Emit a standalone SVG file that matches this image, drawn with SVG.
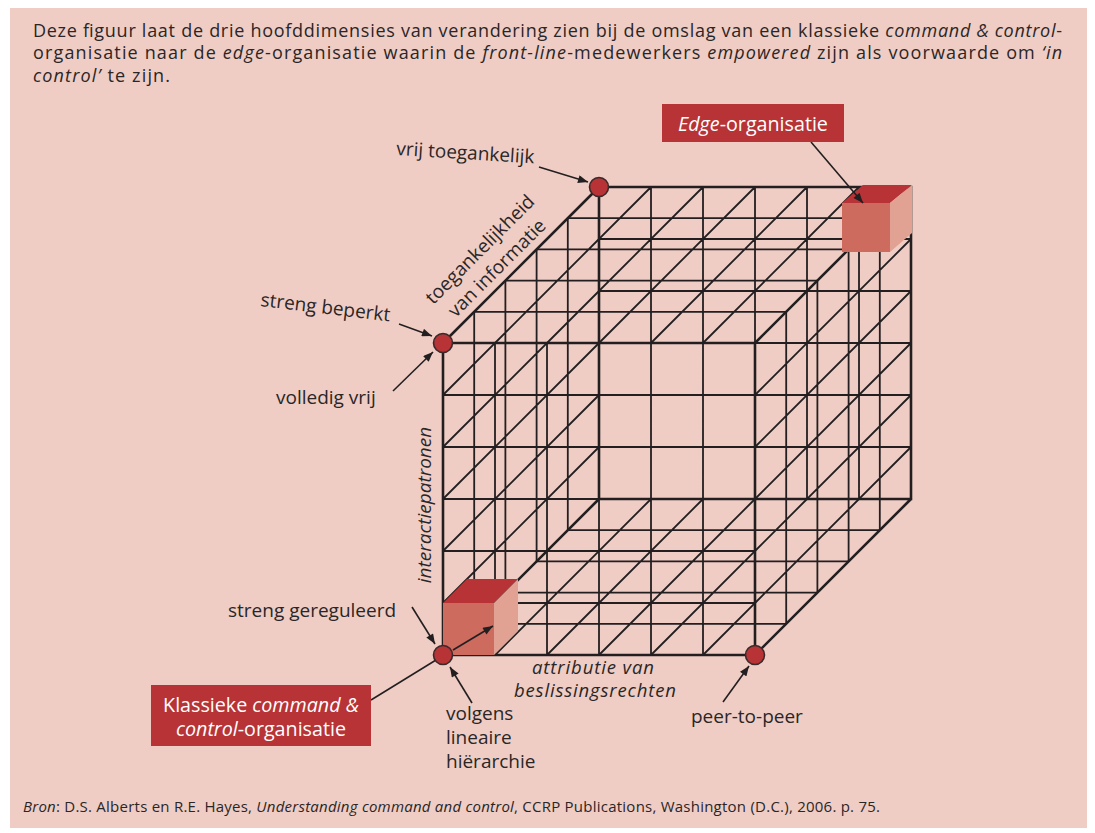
<svg xmlns="http://www.w3.org/2000/svg" width="1095" height="833" viewBox="0 0 1095 833">
<style>
text{font-family:"Open Sans","Noto Sans","Liberation Sans",sans-serif;fill:#2a2627}
.cap{font-size:18px}
.src{font-size:15px}
.lbl{font-size:19px}
.ax{font-size:18.5px}
.box text{fill:#ffffff;font-size:19.7px}
.it{font-style:italic}
.grid{fill:none;stroke:#231f20;stroke-width:1.8}
.edge{fill:none;stroke:#231f20;stroke-width:2.6}
.con{fill:none;stroke:#231f20;stroke-width:1.6}
.dot{fill:#b83336;stroke:#3a2a2a;stroke-width:1.6}
.top{fill:#b83336}
.front{fill:#cd6b5f}
.side{fill:#e1a294}
.boxbg{fill:#b83336}
</style>
<defs>
<marker id="ah" viewBox="0 0 10 8" refX="10" refY="4" markerWidth="11" markerHeight="8" markerUnits="userSpaceOnUse" orient="auto">
<path d="M0,0 L10,4 L0,8 z" fill="#231f20"/>
</marker>
</defs>
<rect x="0" y="0" width="1095" height="833" fill="#ffffff"/>
<rect id="background" x="10" y="8" width="1077" height="820" fill="#efcdc4"/>

<g id="caption" class="cap">
<text x="33" y="37" textLength="1029" lengthAdjust="spacing">Deze figuur laat de drie hoofddimensies van verandering zien bij de omslag van een klassieke <tspan class="it">command &amp; control</tspan>-</text>
<text x="33" y="59.3" textLength="1029" lengthAdjust="spacing">organisatie naar de <tspan class="it">edge</tspan>-organisatie waarin de <tspan class="it">front-line</tspan>-medewerkers <tspan class="it">empowered</tspan> zijn als voorwaarde om <tspan class="it">‘in</tspan></text>
<text x="33" y="81.6" textLength="137" lengthAdjust="spacing"><tspan class="it">control’</tspan> te zijn.</text>
</g>

<g id="lattice">
<path class="grid" d="M495 343V655M547 343V655M599 343V655M651 343V655M703 343V655
M443 395H755M443 447H755M443 499H755M443 551H755M443 603H755
M651 187V499M703 187V499M755 187V499M807 187V499M859 187V499
M599 239H911M599 291H911M599 343H911M599 395H911M599 447H911
M474.2 311.8H786.2M505.4 280.6H817.4M536.6 249.4H848.6M567.8 218.2H879.8
M474.2 623.8H786.2M505.4 592.6H817.4M536.6 561.4H848.6M567.8 530.2H879.8
M474.2 311.8V623.8M505.4 280.6V592.6M536.6 249.4V561.4M567.8 218.2V530.2
M786.2 311.8V623.8M817.4 280.6V592.6M848.6 249.4V561.4M879.8 218.2V530.2
M495 343l156 -156M547 343l156 -156M599 343l156 -156M651 343l156 -156M703 343l156 -156
M495 655l156 -156M547 655l156 -156M599 655l156 -156M651 655l156 -156M703 655l156 -156
M443 395l156 -156M443 447l156 -156M443 499l156 -156M443 551l156 -156M443 603l156 -156
M755 395l156 -156M755 447l156 -156M755 499l156 -156M755 551l156 -156M755 603l156 -156"/>
<path class="edge" d="M443 343H755V655H443Z M599 187H911V499H599Z M443 343l156 -156M755 343l156 -156M755 655l156 -156M443 655l156 -156"/>
</g>

<g id="cube-classic">
<polygon class="top" points="443,603 467,579 518,579 494,603"/>
<rect class="front" x="443" y="603" width="51" height="52"/>
<polygon class="side" points="494,603 518,579 518,631 494,655"/>
</g>

<g id="cube-edge">
<polygon class="top" points="842,203 863,185 912,185 890,203"/>
<rect class="front" x="842" y="203" width="48" height="49"/>
<polygon class="side" points="890,203 912,185 912,233 890,252"/>
</g>

<g id="connectors">
<line class="con" x1="539" y1="167" x2="588" y2="182" marker-end="url(#ah)"/>
<line class="con" x1="399" y1="324" x2="432" y2="336" marker-end="url(#ah)"/>
<line class="con" x1="393" y1="391" x2="433" y2="352" marker-end="url(#ah)"/>
<line class="con" x1="412" y1="607" x2="435" y2="644" marker-end="url(#ah)"/>
<line class="con" x1="453" y1="650" x2="493" y2="626" marker-end="url(#ah)"/>
<line class="con" x1="371" y1="700" x2="436" y2="660"/>
<line class="con" x1="472" y1="703" x2="450" y2="667" marker-end="url(#ah)"/>
<line class="con" x1="723" y1="702" x2="749" y2="666" marker-end="url(#ah)"/>
<line class="con" x1="811" y1="142" x2="863" y2="203" marker-end="url(#ah)"/>
</g>

<g id="node-vrij-toegankelijk">
<circle class="dot" cx="599" cy="187" r="9.5"/>
<text class="lbl" x="396" y="155" transform="rotate(3.5 396 155)">vrij toegankelijk</text>
</g>
<g id="node-streng-beperkt">
<circle class="dot" cx="443" cy="343" r="9.5"/>
<text class="lbl" x="260" y="306" transform="rotate(6.8 260 306)">streng beperkt</text>
<text class="lbl" x="276" y="404">volledig vrij</text>
</g>
<g id="node-origin">
<circle class="dot" cx="443" cy="655" r="9.5"/>
<text class="lbl" x="228" y="617">streng gereguleerd</text>
<text class="lbl" x="446" y="720">volgens</text>
<text class="lbl" x="446" y="744">lineaire</text>
<text class="lbl" x="446" y="768">hiërarchie</text>
</g>
<g id="node-peer">
<circle class="dot" cx="755" cy="655" r="9.5"/>
<text class="lbl" x="691" y="723">peer-to-peer</text>
</g>

<g id="axis-labels">
<text class="lbl" text-anchor="middle" transform="translate(484.5 254) rotate(-45)">toegankelijkheid</text>
<text class="lbl" text-anchor="middle" transform="translate(501.5 272.5) rotate(-45)">van informatie</text>
<text class="lbl it" text-anchor="middle" transform="translate(431 505) rotate(-90)">interactiepatronen</text>
<text class="ax it" x="532" y="674" textLength="122" lengthAdjust="spacing">attributie van</text>
<text class="ax it" x="514" y="697" textLength="162" lengthAdjust="spacing">beslissingsrechten</text>
</g>

<g id="box-classic" class="box">
<rect class="boxbg" x="151" y="685" width="220" height="61"/>
<text x="261" y="711.5" text-anchor="middle">Klassieke <tspan class="it">command &amp;</tspan></text>
<text x="261" y="736" text-anchor="middle"><tspan class="it">control</tspan>-organisatie</text>
</g>

<g id="box-edge" class="box">
<rect class="boxbg" x="662" y="104" width="182" height="38"/>
<text x="753" y="131" text-anchor="middle"><tspan class="it">Edge</tspan>-organisatie</text>
</g>

<g id="source">
<text class="src" x="23" y="812" textLength="857" lengthAdjust="spacing"><tspan class="it">Bron</tspan>: D.S. Alberts en R.E. Hayes, <tspan class="it">Understanding command and control</tspan>, CCRP Publications, Washington (D.C.), 2006. p. 75.</text>
</g>
</svg>
